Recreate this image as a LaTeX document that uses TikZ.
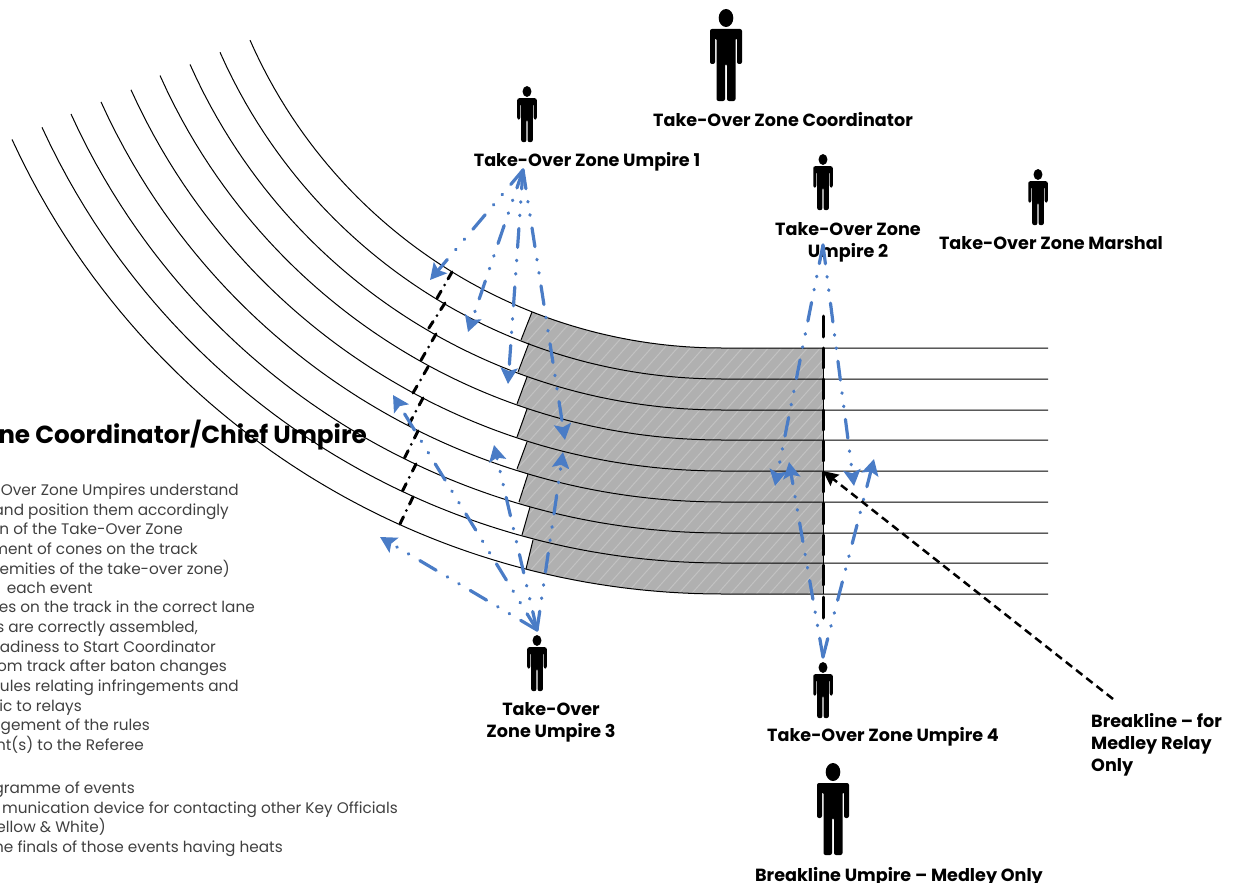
\documentclass[tikz,border=0pt]{standalone}
\usepackage{fontspec}
\setmainfont{Poppins}
\usetikzlibrary{arrows.meta}
\definecolor{flowblue}{HTML}{4A7CC6}
\definecolor{zonegrey}{HTML}{B0B0B0}
\definecolor{hatchgrey}{HTML}{C2C2C2}
\definecolor{bodygrey}{HTML}{404040}
\newcommand{\lanepath}[6]{plot[domain=#5:721.5,samples=40] (\x,{#1-#2+#2*cos(asin((\x-721.5)/#2))}) -- (823,#1) -- (823,#3) -- (721.5,#3) -- plot[domain=721.5:#6,samples=40] (\x,{#3-#4+#4*cos(asin((\x-721.5)/#4))}) -- cycle }
\newcommand{\allLanes}{%
 \lanepath{348}{515}{379}{548.25}{532}{521}%
 \lanepath{379}{548.25}{410}{581.5}{529}{518}%
 \lanepath{410}{581.5}{440}{614.75}{527}{517}%
 \lanepath{440}{614.75}{471}{648}{527}{517}%
 \lanepath{471}{648}{502}{681.25}{527}{517}%
 \lanepath{502}{681.25}{533}{714.5}{528}{519}%
 \lanepath{533}{714.5}{563}{747.75}{530}{522}%
 \lanepath{563}{747.75}{594}{781}{533}{526}%
}
\tikzset{
 x=1pt,y=-1pt,
 trackline/.style={draw=black,line width=1pt},
 flow/.style={draw=flowblue,line width=3.2pt,line cap=round,
   dash pattern=on 19pt off 12.8pt on 0.6pt off 12.8pt on 0.6pt off 12.8pt,
   -{Stealth[length=16pt,width=17pt,inset=3pt]}},
 breakseg/.style={draw=black,line width=3pt,line cap=round,dash pattern=on 8pt off 7pt on 0pt off 7pt},
 breakdash/.style={draw=black,line width=3pt,line cap=round},
 leader/.style={draw=black,line width=2.5pt,dash pattern=on 8pt off 5pt,-{Stealth[length=15pt,width=14pt,inset=2pt]}},
 lbl/.style={font=\fontsize{17.6}{22}\selectfont\bfseries,text=black,inner sep=0pt,align=center},
 bodyline/.style={font=\fontsize{15.3}{16}\selectfont,text=bodygrey,inner sep=0pt,anchor=base east},
 person/.pic={
  \fill[black] (0,9) ellipse [x radius=7.3pt,y radius=9pt];
  \fill[black,rounded corners=2pt] (-16,20) -- (16,20) -- (16,55) -- (11,55) -- (11,29) -- (9.5,29) -- (9.5,92) -- (1,92) -- (1,55) -- (-1,55) -- (-1,92) -- (-9.5,92) -- (-9.5,29) -- (-11,29) -- (-11,55) -- (-16,55) -- cycle;
 }
}
\begin{document}
\begin{tikzpicture}
\useasboundingbox (0,0) rectangle (1234,883);
% zone
\fill[zonegrey] \allLanes;
\begin{scope}
 \clip \allLanes;
 \foreach \h in {200,213,...,1000}
  \draw[hatchgrey,line width=1pt] (\h,620) -- (\h+340,240);
\end{scope}
% lane left edges
\draw[trackline] (532,312) -- (521,340) (529,343) -- (518,372) (527,377) -- (517,404) (527,409) -- (517,437)
  (527,442) -- (517,469) (528,474) -- (519,502) (530,507) -- (522,535) (533,540) -- (526,569);
\draw[trackline] (823,348) -- (823,594);
% track lines
\draw[trackline] plot[domain=250:721.5,samples=80] (\x,{348-515+515*cos(asin((\x-721.5)/515))}) -- (1048,348);
\draw[trackline] plot[domain=220:721.5,samples=80] (\x,{379-548.25+548.25*cos(asin((\x-721.5)/548.25))}) -- (1048,379);
\draw[trackline] plot[domain=190:721.5,samples=80] (\x,{410-581.5+581.5*cos(asin((\x-721.5)/581.5))}) -- (1048,410);
\draw[trackline] plot[domain=160:721.5,samples=80] (\x,{440-614.75+614.75*cos(asin((\x-721.5)/614.75))}) -- (1048,440);
\draw[trackline] plot[domain=131:721.5,samples=80] (\x,{471-648+648*cos(asin((\x-721.5)/648))}) -- (1048,471);
\draw[trackline] plot[domain=101:721.5,samples=80] (\x,{502-681.25+681.25*cos(asin((\x-721.5)/681.25))}) -- (1048,502);
\draw[trackline] plot[domain=71:721.5,samples=80] (\x,{533-714.5+714.5*cos(asin((\x-721.5)/714.5))}) -- (1048,533);
\draw[trackline] plot[domain=42:721.5,samples=80] (\x,{563-747.75+747.75*cos(asin((\x-721.5)/747.75))}) -- (1048,563);
\draw[trackline] plot[domain=12:721.5,samples=80] (\x,{594-781+781*cos(asin((\x-721.5)/781))}) -- (1048,594);
% left text
\node[font=\fontsize{24.7}{26}\selectfont\bfseries,inner sep=0pt,anchor=base east] (title) at (367,443) {ne Coordinator/Chief Umpire};
\node[bodyline] (t1) at (239,495) {-Over Zone Umpires understand};
\node[bodyline] (t2) at (229,515) {and position them accordingly};
\node[bodyline] (t3) at (183,534) {n of the Take-Over Zone};
\node[bodyline] (t4) at (198,554) {ment of cones on the track};
\node[bodyline] (t5) at (230,574) {emities of the take-over zone)};
\node[bodyline] (t6) at (93,593) {each event};
\node[bodyline] (t7) at (255,612) {es on the track in the correct lane};
\node[bodyline] (t8) at (198,632) {s are correctly assembled,};
\node[bodyline] (t9) at (216,652) {adiness to Start Coordinator};
\node[bodyline] (t10) at (227,671) {om track after baton changes};
\node[bodyline] (t11) at (239,691) {rules relating infringements and};
\node[bodyline] (t12) at (82,711) {ic to relays};
\node[bodyline] (t13) at (150,730) {gement of the rules};
\node[bodyline] (t14) at (144,750) {nt(s) to the Referee};
\node[bodyline] (t15) at (135,793) {gramme of events};
\node[bodyline] (t16) at (398,813) {munication device for contacting other Key Officials};
\node[bodyline] (t17) at (106,832) {ellow \& White)};
\node[bodyline] (t18) at (283,852) {he finals of those events having heats};
% people
\pic (pc) at (726,9) {person};
\pic[scale=.61] (pu1) at (527,86) {person};
\pic[scale=.61] (pu2) at (823,154) {person};
\pic[scale=.61] (pm) at (1038,169) {person};
\pic[scale=.61] (pu3) at (537,635) {person};
\pic[scale=.61] (pu4) at (823,662) {person};
\pic (pb) at (833,763) {person};
% labels
\node[lbl] (lc) at (783,120) {Take-Over Zone Coordinator};
\node[lbl] (l1) at (587,162) {Take-Over Zone Umpire 1};
\node[lbl] (l2) at (848,242) {Take-Over Zone\\Umpire 2};
\node[lbl] (lm) at (1051,243) {Take-Over Zone Marshal};
\node[lbl] (l3) at (551,722) {Take-Over\\Zone Umpire 3};
\node[lbl] (l4) at (883,737) {Take-Over Zone Umpire 4};
\node[lbl] (lb) at (899,877) {Breakline Umpire – Medley Only};
\node[lbl,align=left,anchor=north west] (lr) at (1091,713) {Breakline – for\\Medley Relay\\Only};
% anchors of the connectors
\coordinate (u1) at (523,170);
\coordinate (u2) at (823,245);
\coordinate (u3) at (537,630);
\coordinate (u4) at (823,657);
\coordinate (a1) at (430,280);
\coordinate (a2) at (468,332);
\coordinate (a3) at (508,384);
\coordinate (a4) at (565,440);
\coordinate (b1) at (380,537);
\coordinate (b2) at (393,395);
\coordinate (b3) at (494,445);
\coordinate (b4) at (563,452);
\coordinate (c1) at (775,486);
\coordinate (c2) at (854,486);
\coordinate (d1) at (789,462);
\coordinate (d2) at (874,459);
\coordinate (lead) at (1113,699);
\coordinate (leadtip) at (823,471);
% break line, oblique
\draw[breakseg] (452,272) -- (436,300);
\draw[breakseg] (445,303) -- (427,331);
\draw[breakseg] (436,334) -- (420,362);
\draw[breakseg] (428,367) -- (413,393);
\draw[breakseg] (423,398) -- (408,426);
\draw[breakseg] (418,431) -- (404,459);
\draw[breakseg] (416,464) -- (402,492);
\draw[breakseg] (413,497) -- (399,526);
% break line, vertical
\foreach \ya/\yb in {316/337,348/368,379/399,410/430,441/461,472/492,503/524,535/555,565/585,597/618}
 \draw[breakdash] (823,\ya) -- (823,\yb);
% flows
\foreach \s/\e in {u1/a1,u1/a2,u1/a3,u1/a4,u3/b1,u3/b2,u3/b3,u3/b4,u2/c1,u2/c2,u4/d1,u4/d2}
 \draw[flow] (\s) -- (\e);
\draw[leader] (lead) -- (leadtip);
\end{tikzpicture}
\end{document}
